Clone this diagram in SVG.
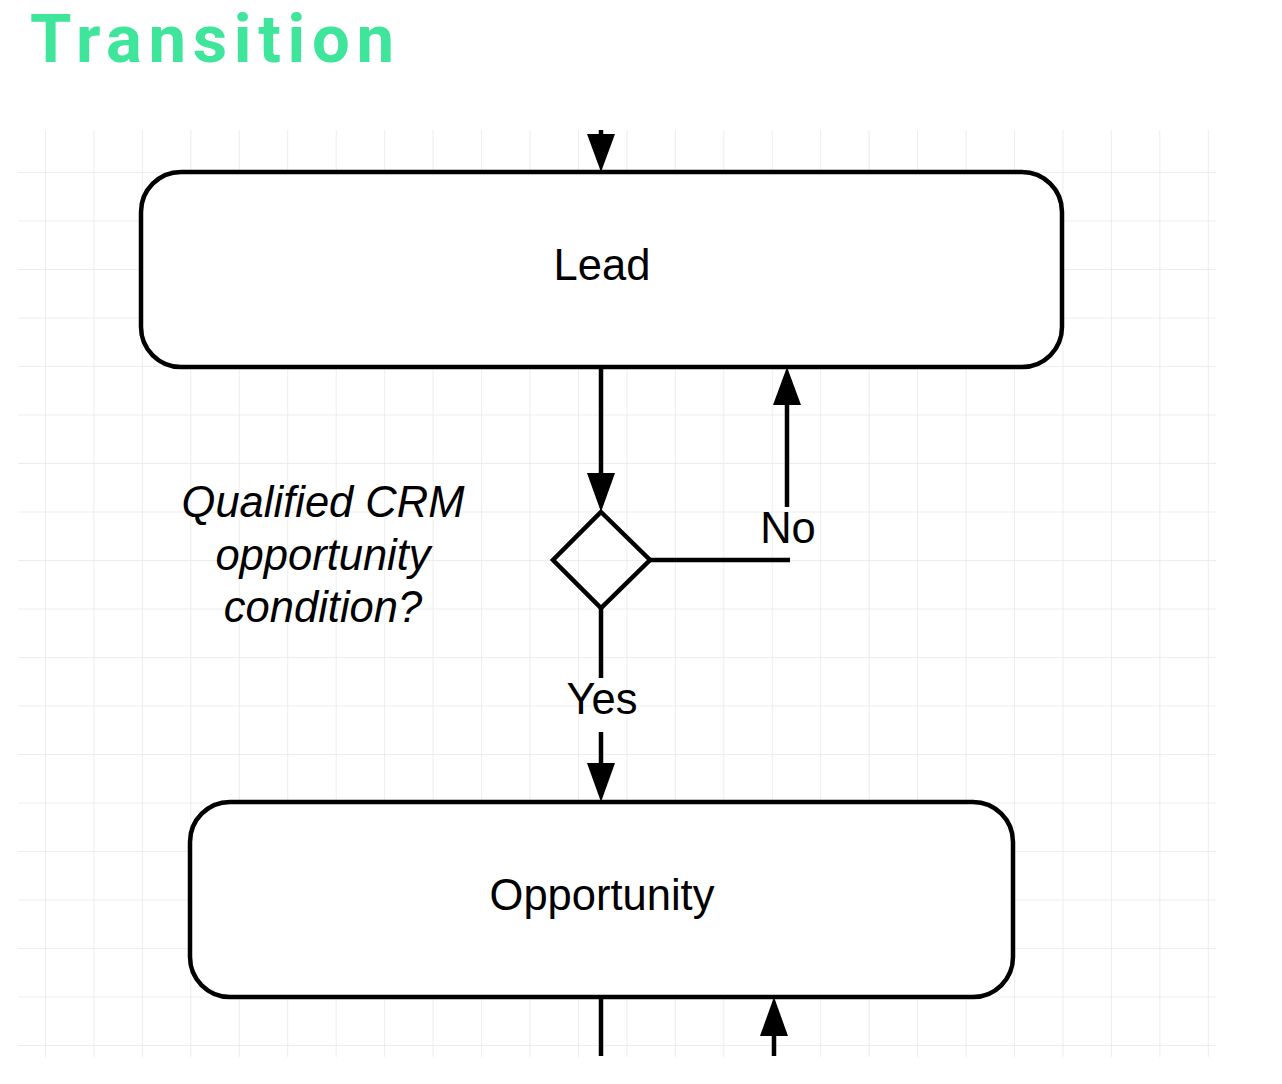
<svg xmlns="http://www.w3.org/2000/svg" width="1282" height="1084" viewBox="0 0 1282 1084">
<defs>
<pattern id="grid" x="45" y="172" width="48.45" height="48.5" patternUnits="userSpaceOnUse">
<path d="M0 0V48.5M0 0H48.45" fill="none" stroke="#e8e8e8" stroke-width="1.5"/>
</pattern>
</defs>
<style>
.box{fill:#fff;stroke:#000;stroke-width:4.5}
.ln{fill:none;stroke:#000;stroke-width:4.5}
.t{font-family:"Liberation Sans",Arial,sans-serif;font-size:43.5px;fill:#000;text-anchor:middle}
.it{font-style:italic}
</style>
<rect width="1282" height="1084" fill="#fff"/>
<rect x="18" y="130" width="1198" height="927" fill="url(#grid)"/>
<text x="30" y="62" font-family="Roboto,'Liberation Sans',sans-serif" font-weight="bold" font-size="67" fill="#3ee59b" textLength="364" lengthAdjust="spacing">Transition</text>
<g id="connectors">
<path class="ln" d="M601 130V134"/>
<path d="M587 134L615 134L601 172Z" fill="#000"/>
<path class="ln" d="M601 367V475"/>
<path d="M587 473L615 473L601 512Z" fill="#000"/>
<path class="ln" d="M650 560H790"/>
<path class="ln" d="M787 507V402"/>
<path d="M773 405L801 405L787 367Z" fill="#000"/>
<path class="ln" d="M601 608V678"/>
<path class="ln" d="M601 732V766"/>
<path d="M587 763L615 763L601 802Z" fill="#000"/>
<path class="ln" d="M601 997V1056"/>
<path class="ln" d="M774 1034V1056"/>
<path d="M760 1036L788 1036L774 997Z" fill="#000"/>
<text class="t" x="788" y="543">No</text>
<text class="t" x="602" y="714">Yes</text>
</g>
<g id="lead">
<rect class="box" x="141" y="172" width="921" height="195" rx="40"/>
<text class="t" x="602" y="280">Lead</text>
</g>
<g id="decision">
<path class="ln" d="M601 512L650 560L601 608L553 560Z" fill="#fff"/>
<text class="t it" x="323" y="517">Qualified CRM</text>
<text class="t it" x="323" y="570">opportunity</text>
<text class="t it" x="323" y="622">condition?</text>
</g>
<g id="opportunity">
<rect class="box" x="190" y="802" width="823" height="195" rx="40"/>
<text class="t" x="602" y="910">Opportunity</text>
</g>
</svg>
